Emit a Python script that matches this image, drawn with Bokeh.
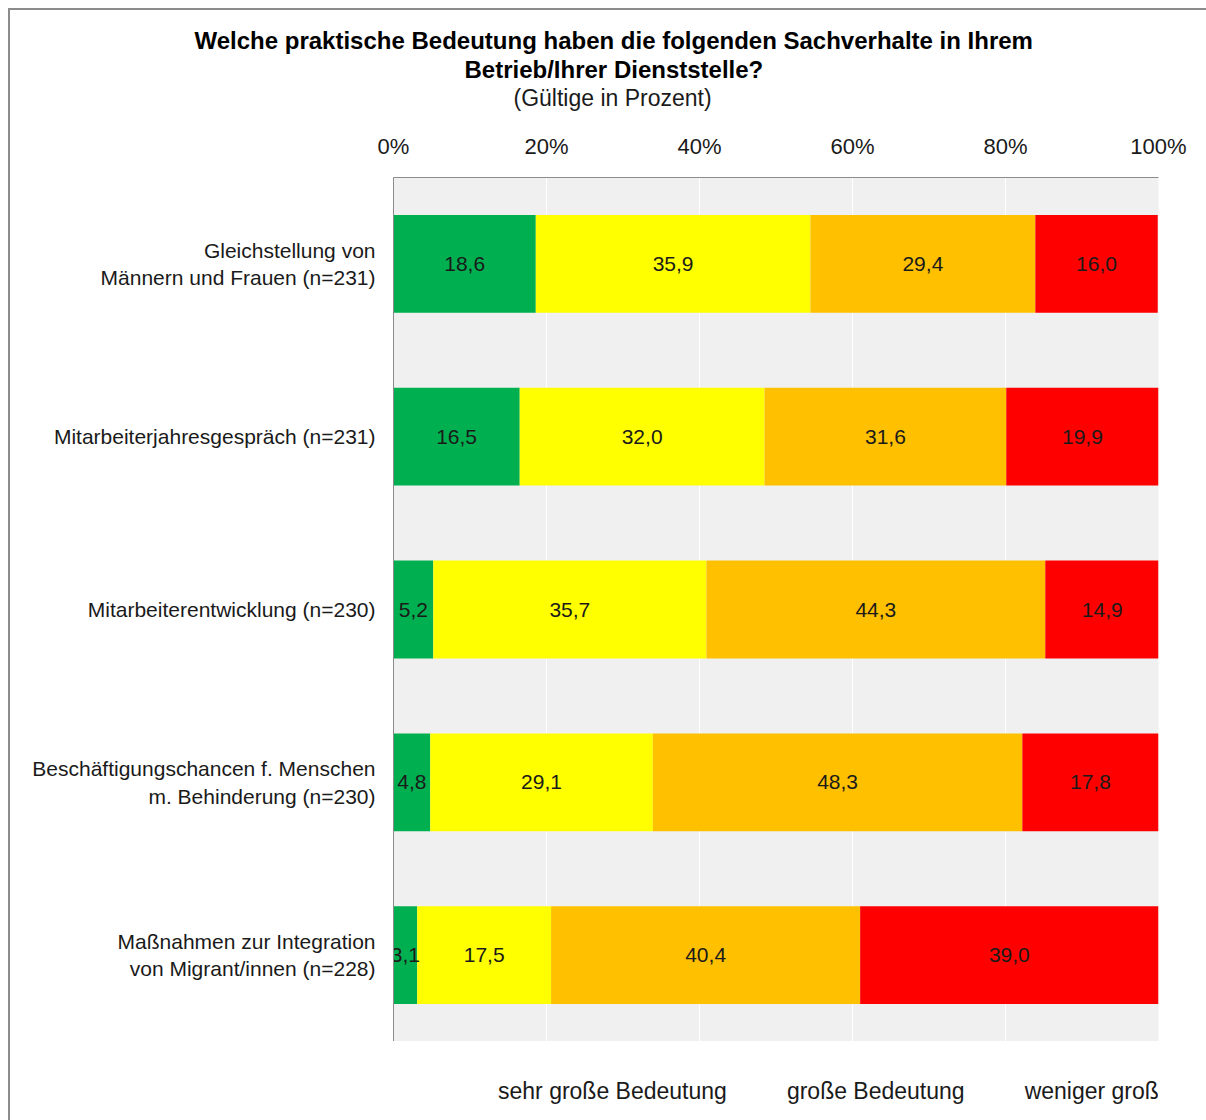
from bokeh.plotting import figure
from bokeh.layouts import column
from bokeh.models import (ColumnDataSource, FactorRange, FixedTicker, Legend, LegendItem,
                          Title, Range1d)
from bokeh.core.properties import value
from bokeh.embed import file_html
from bokeh.resources import INLINE

categories = [
    "Gleichstellung von\nMännern und Frauen (n=231)",
    "Mitarbeiterjahresgespräch (n=231)",
    "Mitarbeiterentwicklung (n=230)",
    "Beschäftigungschancen f. Menschen\nm. Behinderung (n=230)",
    "Maßnahmen zur Integration\nvon Migrant/innen (n=228)",
]
series_names = ["sehr große Bedeutung", "große Bedeutung", "weniger große Bedeutung", "keine Bedeutung"]
sehr_gross = [18.6, 16.5, 5.2, 4.8, 3.1]
gross = [35.9, 32.0, 35.7, 29.1, 17.5]
weniger_gross = [29.4, 31.6, 44.3, 48.3, 40.4]
keine = [16.0, 19.9, 14.9, 17.8, 39.0]
x_ticks = [0, 20, 40, 60, 80, 100]
x_tick_labels = ["0%", "20%", "40%", "60%", "80%", "100%"]
title_lines = ["Welche praktische Bedeutung haben die folgenden Sachverhalte in Ihrem",
               "Betrieb/Ihrer Dienststelle?"]
subtitle = "(Gültige in Prozent)"

colors = ["#00B050", "#FFFF00", "#FFC000", "#FF0000"]
series = [sehr_gross, gross, weniger_gross, keine]
keys = ["s0", "s1", "s2", "s3"]

FONT = "Liberation Sans"

data = {"cat": categories}
for k, s in zip(keys, series):
    data[k] = s
source = ColumnDataSource(data)

p = figure(
    frame_width=765, frame_height=864,
    y_range=FactorRange(*reversed(categories), range_padding=0),
    x_range=Range1d(0, 100),
    x_axis_location="above",
    output_backend="svg", toolbar_location=None,
    min_border_left=383, min_border_right=48, min_border_top=167, min_border_bottom=0,
)
p.background_fill_color = "#F0F0F0"
p.border_fill_color = "white"
p.outline_line_color = None

renderers = p.hbar_stack(keys, y="cat", height=0.566, color=colors, line_color=None, source=source)

# value labels
for i, k in enumerate(keys):
    starts = [sum(series[j][r] for j in range(i)) for r in range(len(categories))]
    centers = [st + v / 2 for st, v in zip(starts, series[i])]
    labels = [f"{v:.1f}".replace(".", ",") for v in series[i]]
    src = ColumnDataSource(dict(x=centers, y=categories, t=labels))
    p.text(x="x", y="y", text="t", source=src, text_align="center", text_baseline="middle",
           text_font=value(FONT), text_font_size="21px", text_color="#1a1a1a")

# axes
p.xaxis.ticker = FixedTicker(ticks=x_ticks)
p.xaxis.major_label_overrides = {t: l for t, l in zip(x_ticks, x_tick_labels)}
p.xaxis.major_label_text_font = FONT
p.xaxis.major_label_text_font_size = "22px"
p.xaxis.major_label_text_color = "#1a1a1a"
p.xaxis.major_tick_line_color = None
p.xaxis.minor_tick_line_color = None
p.xaxis.axis_line_color = "#8c8c8c"
p.xaxis.major_label_standoff = 13

p.yaxis.major_label_text_font = FONT
p.yaxis.major_label_text_font_size = "21px"
p.yaxis.major_label_text_color = "#1a1a1a"
p.yaxis.major_tick_line_color = None
p.yaxis.minor_tick_line_color = None
p.yaxis.axis_line_color = "#8c8c8c"
p.yaxis.major_label_standoff = 12
p.yaxis.major_label_text_align = "center"

p.xgrid.ticker = FixedTicker(ticks=x_ticks)
p.xgrid.grid_line_color = "white"
p.xgrid.grid_line_width = 1
p.ygrid.grid_line_color = None

# titles (added from nearest the plot outward); first one is an invisible spacer
spacer = Title(text=" ", text_font_size="1px", standoff=17)
t3 = Title(text=subtitle, align="left", offset=120, standoff=0,
           text_font=FONT, text_font_size="23px", text_font_style="normal", text_color="#1a1a1a")
t2 = Title(text=title_lines[1], align="left", offset=71, standoff=0,
           text_font=FONT, text_font_size="24px", text_font_style="bold", text_color="black")
t1 = Title(text=title_lines[0], align="left", offset=-199, standoff=0,
           text_font=FONT, text_font_size="24px", text_font_style="bold", text_color="black")
p.add_layout(spacer, "above")
p.add_layout(t3, "above")
p.add_layout(t2, "above")
p.add_layout(t1, "above")

# legend strip below the chart
lg = figure(width=1196, height=79, x_range=Range1d(0, 1), y_range=Range1d(0, 1),
            x_axis_type=None, y_axis_type=None, output_backend="svg", toolbar_location=None,
            min_border=0, min_border_left=0, min_border_right=0, min_border_top=0, min_border_bottom=0)
lg.outline_line_color = None
lg.background_fill_color = "white"
lg.border_fill_color = "white"
lg.grid.grid_line_color = None
legend_renderers = [lg.hbar(y=[], right=[], height=0.5, color=c, line_color=None) for c in colors]

legend = Legend(
    items=[LegendItem(label=n, renderers=[r]) for n, r in zip(series_names, legend_renderers)],
    orientation="horizontal", location=(88, 15),
    label_text_font=FONT, label_text_font_size="23px", label_text_color="#1a1a1a",
    glyph_width=10, glyph_height=10, spacing=43, label_standoff=7, padding=0, margin=0,
    border_line_color=None, background_fill_alpha=0,
)
lg.add_layout(legend, "center")

layout = column(p, lg, spacing=0,
                styles={"margin-left": "8px", "margin-top": "8px",
                        "border-top": "2px solid #8c8c8c", "border-left": "2px solid #8c8c8c"})

open("out.html", "w").write(file_html(layout, INLINE))
